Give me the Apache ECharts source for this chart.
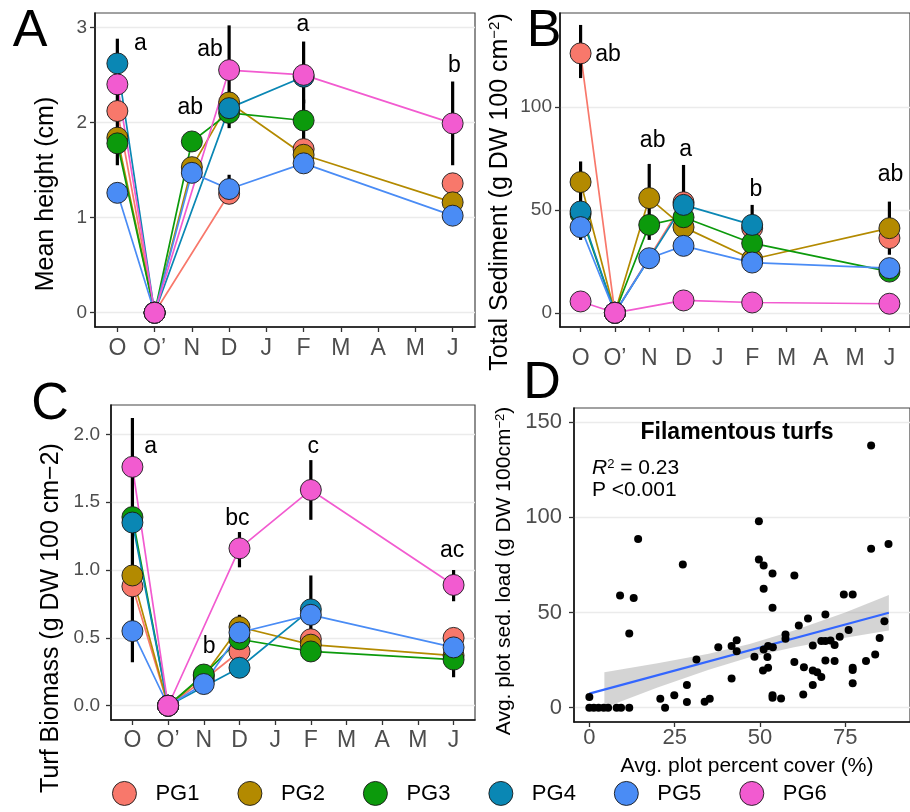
<!DOCTYPE html>
<html><head><meta charset="utf-8">
<script src="https://cdn.jsdelivr.net/npm/echarts@6/dist/echarts.min.js"></script>
<style>html,body{margin:0;padding:0;background:#fff}#c{width:910px;height:812px}</style>
</head><body><div id="c"></div>
<script>
const FONT = '"Liberation Sans", Arial, Helvetica, sans-serif';
const months = ['O', 'O’', 'N', 'D', 'J', 'F', 'M', 'A', 'M', 'J'];
const monthIdx = [0, 1, 2, 3, 4, 5, 6, 7, 8, 9];
const groups = ['PG1', 'PG2', 'PG3', 'PG4', 'PG5', 'PG6'];
const groupColors = ['#F8786B', '#B38A00', '#0C9A0C', '#0A87B4', '#4A8CF5', '#F25BD0'];

// Panel A: mean height (cm), one row per group, one slot per month (null = not sampled)
const heightVals = [
  [2.12, 0, null, 1.25, null, 1.72, null, null, null, 1.36],
  [1.84, 0, 1.53, 2.21, null, 1.66, null, null, null, 1.16],
  [1.78, 0, 1.80, 2.10, null, 2.02, null, null, null, null],
  [2.62, 0, null, 2.15, null, 2.48, null, null, null, null],
  [1.26, 0, 1.47, 1.30, null, 1.57, null, null, null, 1.02],
  [2.40, 0, null, 2.55, null, 2.50, null, null, null, 1.99]
];
const heightPaths = [[0, 1, 3], [0, 1, 2, 3, 5, 9], [0, 1, 2, 3, 5], [0, 1, 3, 5], [0, 1, 2, 3, 5, 9], [0, 1, 3, 5, 9]];
const heightErr = [[0, 1.55, 2.88], [3, 1.94, 3.02], [3, 1.15, 1.45], [5, 2.20, 2.85], [5, 1.80, 2.24], [9, 1.55, 2.43]];
const heightLetters = [[0.62, 2.83, 'a'], [1.96, 2.16, 'ab'], [2.49, 2.77, 'ab'], [4.98, 3.03, 'a'], [9.05, 2.60, 'b']];
const heightTicks = [0, 1, 2, 3];

// Panel B: total sediment (g DW 100 cm-2)
const sedVals = [
  [126.0, 0, null, 53.7, null, 41.1, null, null, null, 36.3],
  [63.5, 0, 55.7, 41.6, null, 26.0, null, null, null, 41.1],
  [48.0, 0, 42.7, 46.4, null, 33.8, null, null, null, 20.0],
  [49.2, 0, null, 52.4, null, 42.7, null, null, null, null],
  [41.6, 0, 26.5, 32.5, null, 24.4, null, null, null, 21.7],
  [5.5, 0, null, 6.0, null, 5.0, null, null, null, 4.4]
];
const sedPaths = [[0, 1, 3], [0, 1, 2, 3, 5, 9], [0, 1, 2, 3, 5, 9], [0, 1, 3, 5], [0, 1, 2, 3, 5, 9], [0, 1, 3, 5, 9]];
const sedErr = [[0, 114, 139.8], [0, 35.4, 73.5], [2, 35.4, 72.3], [3, 46, 71.8], [5, 36, 52.4], [9, 28.2, 54.0]];
const sedLetters = [[0.80, 125.5, 'ab'], [2.10, 83.6, 'ab'], [3.06, 79.1, 'a'], [5.11, 60.0, 'b'], [9.03, 67.0, 'ab']];
const sedTicks = [0, 50, 100];

// Panel C: turf biomass (g DW 100 cm-2)
const bioVals = [
  [0.88, 0, 0.19, 0.40, null, 0.49, null, null, null, 0.50],
  [0.96, 0, 0.22, 0.58, null, 0.45, null, null, null, 0.37],
  [1.39, 0, 0.23, 0.49, null, 0.40, null, null, null, 0.34],
  [1.35, 0, null, 0.28, null, 0.71, null, null, null, null],
  [0.55, 0, 0.16, 0.54, null, 0.67, null, null, null, 0.43],
  [1.76, 0, null, 1.16, null, 1.59, null, null, null, 0.89]
];
const bioPaths = [[0, 1, 2, 3], [0, 1, 2, 3, 5, 9], [0, 1, 2, 3, 5, 9], [0, 1, 3, 5], [0, 1, 2, 3, 5, 9], [0, 1, 3, 5, 9]];
const bioErr = [[0, 0.32, 2.12], [3, 1.02, 1.28], [3, 0.45, 0.67], [5, 1.37, 1.81], [5, 0.53, 0.96], [9, 0.77, 1.00], [9, 0.21, 0.45]];
const bioLetters = [[0.51, 1.91, 'a'], [2.15, 0.435, 'b'], [2.94, 1.38, 'bc'], [5.07, 1.91, 'c'], [8.96, 1.14, 'ac']];
const bioTicks = [0, 0.5, 1.0, 1.5, 2.0];

// Panel D: plot percent cover vs sediment load
const coverVals = [0, 0, 1.3, 2.7, 4.2, 5.5, 8.0, 9.3, 11.7, 9.0, 13.0, 11.7, 14.3, 20.8, 22.2, 24.9, 28.6, 28.6, 27.4, 31.4, 33.8, 35.3, 37.8, 41.7, 41.7, 43.2, 43.2, 48.4, 49.7, 49.7, 51.1, 53.7, 51.1, 53.7, 51.1, 52.4, 53.8, 52.2, 50.9, 52.4, 53.7, 53.7, 56.2, 57.5, 57.5, 60.1, 60.1, 61.4, 62.7, 62.9, 64.1, 65.5, 65.5, 65.5, 66.8, 68.0, 68.0, 69.2, 69.2, 70.7, 71.9, 69.2, 71.9, 73.4, 74.6, 77.2, 76.0, 77.2, 77.2, 77.2, 81.1, 82.6, 83.8, 85.1, 86.5, 87.7, 82.6];
const loadVals = [5.6, 0, 0, 0, 0, 0, 0, 0, 0, 59.0, 57.7, 39.0, 88.7, 4.7, 0, 6.5, 11.9, 3.0, 75.2, 25.4, 3.1, 4.7, 31.8, 15.4, 32.4, 35.5, 29.7, 26.8, 98.0, 77.9, 74.7, 70.5, 62.5, 52.5, 30.6, 32.4, 31.8, 26.6, 19.6, 21.0, 6.5, 5.2, 4.9, 38.5, 36.2, 69.5, 24.0, 43.2, 7.0, 21.3, 46.9, 32.7, 11.9, 19.6, 18.7, 16.1, 35.0, 49.0, 35.0, 35.3, 32.9, 24.8, 24.5, 37.3, 59.5, 59.5, 40.8, 21.0, 19.8, 12.8, 24.5, 83.6, 28.0, 36.7, 45.5, 86.1, 137.8];
const fitX = [0, 87.8];
const fitY = [7.4, 49.9];
const bandX = [4.4, 20, 35, 47, 60, 75, 87.8];
const bandLow = [0, 10.6, 20.0, 26.5, 31.8, 36.8, 40.6];
const bandHigh = [18.7, 23.4, 28.4, 33.5, 40.6, 50.0, 59.2];
const coverTicks = [0, 25, 50, 75];
const loadTicks = [0, 50, 100, 150];

const chart = echarts.init(document.getElementById('c'), null, {renderer: 'canvas'});

const grids = [
  {left: 95, top: 13, width: 380, height: 314},
  {left: 560, top: 13, width: 359, height: 314},
  {left: 111, top: 405, width: 364, height: 315},
  {left: 574, top: 408, width: 337, height: 314}
].map(g => Object.assign({show: true, borderColor: '#444', borderWidth: 1.2, backgroundColor: 'transparent'}, g));

function xMonthAxis(gi, margin) {
  return {
    type: 'value', gridIndex: gi, min: -0.6, max: 9.6,
    axisLine: {show: true, onZero: false, lineStyle: {color: '#111', width: 1.6}},
    axisTick: {show: true, length: 5, customValues: monthIdx, lineStyle: {color: '#333', width: 1.3}},
    axisLabel: {customValues: monthIdx, formatter: v => months[Math.round(v)], fontSize: 23, color: '#4D4D4D', margin: margin, fontFamily: FONT},
    splitLine: {show: false}
  };
}
function yAxis(gi, min, max, ticks, margin, fmt, fs) {
  return {
    type: 'value', gridIndex: gi, min: min, max: max,
    axisLine: {show: true, onZero: false, lineStyle: {color: '#111', width: 1.6}},
    axisTick: {show: true, length: 5, customValues: ticks, lineStyle: {color: '#333', width: 1.3}},
    axisLabel: {customValues: ticks, formatter: fmt || (v => String(v)), fontSize: fs || 19, color: '#4D4D4D', margin: margin, fontFamily: FONT},
    splitLine: {show: true, customValues: ticks, lineStyle: {color: '#EBEBEB', width: 1.4}}
  };
}

const xAxes = [
  xMonthAxis(0, 10), xMonthAxis(1, 20), xMonthAxis(2, 9),
  {
    type: 'value', gridIndex: 3, min: -4.5, max: 94,
    axisLine: {show: true, onZero: false, lineStyle: {color: '#111', width: 1.6}},
    axisTick: {show: true, length: 5, customValues: coverTicks, lineStyle: {color: '#333', width: 1.3}},
    axisLabel: {customValues: coverTicks, fontSize: 22, color: '#4D4D4D', margin: 5, fontFamily: FONT},
    splitLine: {show: false}
  }
];
const yAxes = [
  yAxis(0, -0.15, 3.15, heightTicks, 8),
  yAxis(1, -6.9, 145.6, sedTicks, 8),
  yAxis(2, -0.105, 2.216, bioTicks, 11, v => v.toFixed(1)),
  yAxis(3, -7.5, 157.5, loadTicks, 12, null, 22)
];

const series = [];
function monthlyPanel(p, vals, paths, errs, letters) {
  vals.forEach((row, g) => {
    series.push({
      type: 'line', xAxisIndex: p, yAxisIndex: p, silent: true, z: 2,
      data: paths[g].map(i => [i, row[i]]),
      showSymbol: false, symbol: 'none',
      lineStyle: {color: groupColors[g], width: 1.7}
    });
  });
  series.push({
    type: 'custom', xAxisIndex: p, yAxisIndex: p, silent: true, z: 3,
    data: errs, encode: {x: 0, y: [1, 2]},
    renderItem: (params, api) => {
      const a = api.coord([api.value(0), api.value(1)]);
      const b = api.coord([api.value(0), api.value(2)]);
      return {type: 'line', shape: {x1: a[0], y1: a[1], x2: b[0], y2: b[1]}, style: {stroke: '#000', lineWidth: 3.2}};
    }
  });
  vals.forEach((row, g) => {
    series.push({
      type: 'scatter', name: groups[g], xAxisIndex: p, yAxisIndex: p, z: 4,
      data: row.map((v, i) => v == null ? null : [i, v]).filter(d => d),
      symbolSize: 21,
      itemStyle: {color: groupColors[g], borderColor: '#1a1a1a', borderWidth: 0.9, opacity: 1}
    });
  });
  series.push({
    type: 'custom', xAxisIndex: p, yAxisIndex: p, silent: true, z: 5,
    data: letters.map(l => [l[0], l[1]]),
    renderItem: (params, api) => {
      const c = api.coord([api.value(0), api.value(1)]);
      return {type: 'text', x: c[0], y: c[1], style: {text: letters[params.dataIndex][2], textAlign: 'center', textVerticalAlign: 'middle', fontSize: 23, fontFamily: FONT, fill: '#000'}};
    }
  });
}
monthlyPanel(0, heightVals, heightPaths, heightErr, heightLetters);
monthlyPanel(1, sedVals, sedPaths, sedErr, sedLetters);
monthlyPanel(2, bioVals, bioPaths, bioErr, bioLetters);

// Panel D
series.push({
  type: 'custom', xAxisIndex: 3, yAxisIndex: 3, silent: true, z: 1,
  data: [[0, 0]],
  renderItem: (params, api) => {
    const pts = [];
    bandX.forEach((x, i) => pts.push(api.coord([x, bandHigh[i]])));
    for (let i = bandX.length - 1; i >= 0; i--) pts.push(api.coord([bandX[i], bandLow[i]]));
    return {type: 'polygon', shape: {points: pts}, style: {fill: 'rgba(153,153,153,0.42)'}};
  }
});
series.push({
  type: 'line', xAxisIndex: 3, yAxisIndex: 3, silent: true, z: 2,
  data: fitX.map((x, i) => [x, fitY[i]]), showSymbol: false, symbol: 'none',
  lineStyle: {color: '#3366FF', width: 2.2}
});
series.push({
  type: 'scatter', xAxisIndex: 3, yAxisIndex: 3, z: 3,
  data: coverVals.map((x, i) => [x, loadVals[i]]),
  symbolSize: 8, itemStyle: {color: '#000', opacity: 1}
});

const supRich = {s: {fontSize: 15, verticalAlign: 'top', fontFamily: FONT, fill: '#000'}, n: {fontSize: 25, fontFamily: FONT, fill: '#000'}};

const graphics = [
  {type: 'text', x: 30, y: 32, style: {text: 'A', fontSize: 52, fontFamily: FONT, fill: '#000', textAlign: 'center', textVerticalAlign: 'middle'}},
  {type: 'text', x: 544, y: 32, style: {text: 'B', fontSize: 52, fontFamily: FONT, fill: '#000', textAlign: 'center', textVerticalAlign: 'middle'}},
  {type: 'text', x: 50, y: 405, style: {text: 'C', fontSize: 52, fontFamily: FONT, fill: '#000', textAlign: 'center', textVerticalAlign: 'middle'}},
  {type: 'text', x: 542, y: 384, style: {text: 'D', fontSize: 52, fontFamily: FONT, fill: '#000', textAlign: 'center', textVerticalAlign: 'middle'}},
  {type: 'text', x: 46, y: 194, rotation: Math.PI / 2, style: {text: 'Mean height (cm)', fontSize: 25, fontFamily: FONT, fill: '#000', textAlign: 'center', textVerticalAlign: 'middle'}},
  {type: 'text', x: 500, y: 192, rotation: Math.PI / 2, style: {text: '{n|Total Sediment (g DW 100 cm}{s|−2}{n|)}', rich: supRich, fontSize: 25, fontFamily: FONT, fill: '#000', textAlign: 'center', textVerticalAlign: 'middle'}},
  {type: 'text', x: 51, y: 618, rotation: Math.PI / 2, style: {text: 'Turf Biomass (g DW 100 cm−2)', fontSize: 25, fontFamily: FONT, fill: '#000', textAlign: 'center', textVerticalAlign: 'middle'}},
  {type: 'text', x: 504, y: 571, rotation: Math.PI / 2, style: {text: '{m|Avg. plot sed. load (g DW 100cm}{t|−2}{m|)}', rich: {m: {fontSize: 21, fontFamily: FONT, fill: '#000'}, t: {fontSize: 13, verticalAlign: 'top', fontFamily: FONT, fill: '#000'}}, fontSize: 21, fontFamily: FONT, fill: '#000', textAlign: 'center', textVerticalAlign: 'middle'}},
  {type: 'text', x: 747, y: 766, style: {text: 'Avg. plot percent cover (%)', fontSize: 21, fontFamily: FONT, fill: '#000', textAlign: 'center', textVerticalAlign: 'middle'}},
  {type: 'text', x: 737, y: 433, style: {text: 'Filamentous turfs', fontSize: 23, fontWeight: 'bold', fontFamily: FONT, fill: '#000', textAlign: 'center', textVerticalAlign: 'middle'}},
  {type: 'text', x: 592, y: 468, style: {text: '{i|R}{s|2}{n| = 0.23}', rich: {i: {fontSize: 21, fontStyle: 'italic', fontFamily: FONT, fill: '#000'}, s: {fontSize: 13, verticalAlign: 'top', fontFamily: FONT, fill: '#000'}, n: {fontSize: 21, fontFamily: FONT, fill: '#000'}}, fontSize: 21, fontFamily: FONT, fill: '#000', textAlign: 'left', textVerticalAlign: 'middle'}},
  {type: 'text', x: 592, y: 490, style: {text: 'P <0.001', fontSize: 21, fontFamily: FONT, fill: '#000', textAlign: 'left', textVerticalAlign: 'middle'}}
].map(g => Object.assign({z: 100}, g));

chart.setOption({
  animation: false,
  backgroundColor: '#fff',
  textStyle: {fontFamily: FONT},
  grid: grids,
  xAxis: xAxes,
  yAxis: yAxes,
  series: series,
  graphic: graphics,
  legend: {
    data: groups, left: 107, top: 776, orient: 'horizontal',
    icon: 'circle', itemWidth: 24, itemHeight: 27, itemGap: 38,
    itemStyle: {borderColor: '#1a1a1a', borderWidth: 0.9},
    textStyle: {fontSize: 22, color: '#000', fontFamily: FONT, padding: [0, 0, 0, 14]},
    selectedMode: false
  }
});
</script></body></html>
